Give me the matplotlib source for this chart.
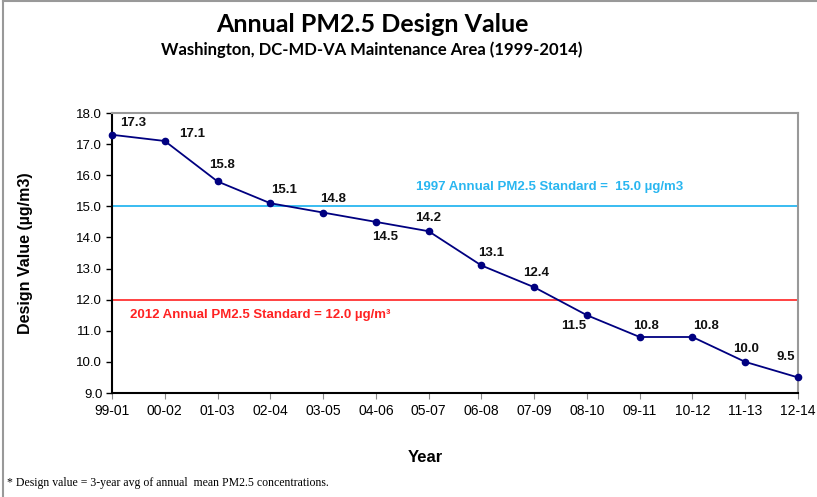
import matplotlib
matplotlib.use("Agg")
import matplotlib.pyplot as plt
from matplotlib.lines import Line2D

categories = ["99-01", "00-02", "01-03", "02-04", "03-05", "04-06", "05-07",
              "06-08", "07-09", "08-10", "09-11", "10-12", "11-13", "12-14"]
values = [17.3, 17.1, 15.8, 15.1, 14.8, 14.5, 14.2, 13.1, 12.4, 11.5, 10.8, 10.8, 10.0, 9.5]
label_offsets = [(21, 12), (27, 7), (4, 16), (14, 13), (10, 14), (9, -15), (0, 13),
                 (10, 12), (2, 14), (-13, -11), (6, 11), (14, 11), (1, 13), (-12, 20)]
std_1997 = 15.0
std_2012 = 12.0
yticks = [9.0, 10.0, 11.0, 12.0, 13.0, 14.0, 15.0, 16.0, 17.0, 18.0]

plt.rcParams['font.family'] = ['Liberation Sans', 'DejaVu Sans']

fig = plt.figure(figsize=(8.17, 4.97), dpi=100)
ax = fig.add_axes([112/817, 1-393/497, (798-112)/817, (393-113)/497])

x = list(range(len(categories)))
ax.axhline(std_1997, color='#29B6F0', lw=1.3, zorder=1)
ax.axhline(std_2012, color='#FF3333', lw=1.3, zorder=1)
ax.plot(x, values, color='#000080', lw=1.3, marker='o', ms=4.5, zorder=3, clip_on=False)

for xi, v, (dx, dy) in zip(x, values, label_offsets):
    ax.annotate(f"{v:.1f}", (xi, v), xytext=(dx, dy), textcoords='offset pixels',
                ha='center', va='center', fontsize=9.5, fontweight='bold', color='#111111')

ax.text((416-112)/686, (393-187)/280, "1997 Annual PM2.5 Standard =  15.0 µg/m3", transform=ax.transAxes,
        color='#29B6F0', fontsize=9.5, fontweight='bold', ha='left', va='center')
ax.text((130-112)/686, (393-315)/280, "2012 Annual PM2.5 Standard = 12.0 µg/m³", transform=ax.transAxes,
        color='#FF2222', fontsize=9.5, fontweight='bold', ha='left', va='center')

ax.set_xlim(0, len(categories) - 1)
ax.set_ylim(9.0, 18.0)
ax.set_yticks(yticks)
ax.set_yticklabels([f"{t:.1f}" for t in yticks], fontsize=9.5)
ax.set_xticks(x)
ax.set_xticklabels(categories, fontsize=10)
ax.tick_params(axis='y', direction='out', length=4, width=1, color='black', pad=3)
ax.tick_params(axis='x', direction='out', length=4, width=0.8, color='#888888', pad=4)

for s in ['left', 'bottom']:
    ax.spines[s].set_color('black')
    ax.spines[s].set_linewidth(1.5)
for s in ['top', 'right']:
    ax.spines[s].set_color('#999999')
    ax.spines[s].set_linewidth(1.5)

ax.set_ylabel("Design Value (µg/m3)", fontsize=11.5, fontweight='bold')
ax.yaxis.set_label_coords(-(112-33)/686, 0.5)
fig.text(425/817, 1-457/497, "Year", fontsize=12, fontweight='bold', ha='center', va='center')

fig.text(372/817, 1-25/497, "Annual PM2.5 Design Value", fontsize=18, fontweight='bold',
         ha='center', va='center', family=['Lato', 'DejaVu Sans'])
fig.text(372/817, 1-50/497, "Washington, DC-MD-VA Maintenance Area (1999-2014)", fontsize=12,
         fontweight='bold', ha='center', va='center', family=['Lato', 'DejaVu Sans'])

fig.text(7/817, 1-483/497, "* Design value = 3-year avg of annual  mean PM2.5 concentrations.",
         fontsize=8.5, ha='left', va='center', family=['Liberation Serif', 'DejaVu Serif'])

fig.add_artist(Line2D([3/817, 3/817], [0, 1-1/497], transform=fig.transFigure, color='#999999', lw=1.5))
fig.add_artist(Line2D([3/817, 1], [1-1/497, 1-1/497], transform=fig.transFigure, color='#999999', lw=1.5))

fig.savefig("out.png", dpi=100)
